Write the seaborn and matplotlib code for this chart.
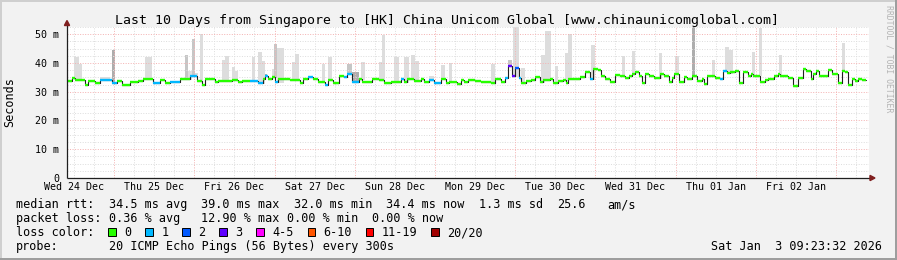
import numpy as np
import pandas as pd
import matplotlib
matplotlib.use("Agg")
import matplotlib.pyplot as plt
from matplotlib.patches import Rectangle, Polygon
import seaborn as sns

# ---------------- data ----------------
title = "Last 10 Days from Singapore to [HK] China Unicom Global [www.chinaunicomglobal.com]"
day_labels = ["Wed 24 Dec", "Thu 25 Dec", "Fri 26 Dec", "Sat 27 Dec", "Sun 28 Dec",
              "Mon 29 Dec", "Tue 30 Dec", "Wed 31 Dec", "Thu 01 Jan", "Fri 02 Jan"]
first_midnight_h = 14.1      # hours after graph start
span_h = 240.0
end_h = 239.2

ytick_vals = [0, 10, 20, 30, 40, 50]
ytick_labels = ["0", "10 m", "20 m", "30 m", "40 m", "50 m"]

# median rtt step series (segment start hour, ms, loss class)
time_h = [0.0, 1.5, 2.4, 5.4, 6.3, 8.4, 9.9, 13.5, 15.0, 16.5, 18.9, 21.3, 22.8, 25.7, 27.8, 29.3, 30.8, 33.8, 36.8, 38.9,
          40.4, 41.3, 42.5, 44.3, 45.2, 49.4, 51.2, 52.4, 54.8, 57.2, 58.7, 59.3, 60.2, 61.4, 62.3, 63.2, 66.8, 69.8, 70.7, 72.2,
          73.7, 75.1, 77.2, 78.1, 79.6, 81.4, 82.9, 83.8, 85.3, 86.5, 87.4, 88.3, 91.3, 93.4, 94.9, 97.0, 100.0, 100.9, 101.8, 103.9,
          106.0, 106.9, 108.4, 109.9, 112.0, 113.5, 114.4, 116.8, 118.0, 118.9, 120.1, 122.2, 124.0, 127.0, 128.1, 129.9, 131.1, 132.0, 133.2, 134.1,
          135.3, 135.9, 137.4, 138.9, 140.1, 141.6, 142.5, 144.6, 145.5, 147.0, 148.5, 149.4, 150.0, 152.1, 153.6, 155.1, 156.6, 157.5, 159.0, 159.9,
          161.1, 162.6, 164.1, 165.6, 167.1, 168.3, 169.2, 170.1, 171.3, 172.2, 173.1, 174.3, 175.7, 177.5, 178.7, 180.2, 181.1, 181.7, 183.2, 184.7,
          185.6, 187.1, 188.6, 190.1, 190.7, 191.6, 193.1, 194.0, 195.5, 196.4, 197.6, 198.5, 200.0, 201.2, 202.4, 203.9, 204.8, 205.4, 206.3, 207.5,
          209.0, 209.9, 211.7, 212.9, 213.5, 215.9, 217.4, 218.9, 220.1, 221.0, 222.5, 223.1, 224.0, 224.9, 227.8, 229.0, 230.8, 232.0, 232.9, 233.8,
          235.0, 235.9, 236.8, 238.0]
median_ms = [33.7, 34.6, 34.0, 32.3, 33.7, 33.2, 34.0, 32.9, 33.7, 32.5, 33.3, 33.8, 34.4, 32.9, 34.0, 32.9, 33.3, 34.5, 35.5, 33.8,
             32.2, 34.3, 34.5, 33.3, 33.6, 33.9, 33.3, 33.6, 33.6, 33.1, 34.5, 35.6, 34.3, 35.1, 33.3, 34.5, 34.2, 33.1, 34.5, 35.1,
             34.3, 33.3, 32.4, 33.9, 33.1, 35.6, 35.1, 36.1, 33.3, 33.5, 34.5, 33.3, 34.5, 34.2, 33.0, 33.4, 34.3, 33.3, 34.3, 33.6,
             34.5, 33.3, 33.9, 33.0, 34.3, 33.0, 33.3, 32.7, 33.9, 33.3, 33.9, 33.6, 33.3, 33.0, 34.3, 33.3, 34.7, 39.0, 35.5, 38.2,
             34.8, 33.0, 33.6, 33.9, 35.1, 33.3, 33.9, 34.5, 33.0, 33.6, 33.9, 33.0, 34.3, 34.5, 35.1, 36.9, 34.5, 37.9, 37.5, 35.4,
             34.3, 33.3, 35.8, 35.3, 34.7, 35.6, 36.1, 36.8, 35.3, 33.0, 36.1, 35.6, 34.7, 36.1, 35.3, 33.3, 34.7, 36.1, 33.3, 35.1,
             34.3, 35.6, 33.6, 34.5, 32.7, 35.6, 35.3, 34.7, 34.4, 37.2, 36.6, 36.8, 37.1, 33.0, 37.0, 35.6, 36.1, 35.3, 35.6, 33.3,
             33.9, 34.5, 35.6, 36.1, 35.3, 34.6, 32.0, 34.6, 38.0, 37.3, 34.4, 36.1, 37.3, 35.3, 37.5, 36.3, 32.9, 37.3, 36.7, 32.4,
             34.4, 33.6, 34.4, 34.1]
loss_class = [0, 0, 0, 0, 0, 0, 1, 1, 0, 0, 0, 0, 0, 1, 0, 0, 1, 0, 1, 0,
              0, 0, 0, 0, 0, 0, 0, 0, 1, 1, 0, 1, 0, 0, 1, 0, 0, 0, 0, 1,
              0, 0, 1, 0, 0, 0, 1, 1, 1, 1, 0, 0, 0, 0, 0, 0, 1, 0, 0, 0,
              0, 0, 1, 1, 0, 0, 0, 0, 0, 0, 0, 0, 0, 0, 0, 0, 1, 3, 3, 2,
              1, 0, 0, 0, 0, 0, 0, 0, 0, 0, 0, 0, 0, 0, 0, 0, 1, 0, 0, 0,
              0, 0, 0, 0, 0, 0, 0, 0, 0, 0, 0, 0, 0, 0, 0, 0, 0, 0, 0, 0,
              0, 0, 0, 0, 0, 0, 0, 0, 1, 1, 0, 0, 0, 0, 0, 0, 0, 0, 0, 0,
              0, 0, 0, 0, 0, 0, 0, 0, 0, 0, 0, 0, 0, 0, 0, 0, 0, 0, 0, 0,
              0, 0, 0, 0]

# smoke (ping spread above median): start hour, end hour, top ms, shade
smoke_start_h = [2.1, 3.6, 9.9, 13.5, 23.4, 35.3, 36.2, 37.4, 38.3, 39.8, 46.4, 47.3, 49.4, 50.3, 55.4, 57.2, 58.4, 59.3,
                 61.4, 62.0, 62.9, 67.4, 68.3, 76.3, 78.1, 83.8, 85.3, 88.0, 93.4, 94.3, 97.9, 100.9, 103.0, 104.2, 108.4,
                 112.0, 114.4, 127.0, 132.0, 133.5, 135.9, 141.9, 143.1, 146.1, 149.1, 150.0, 156.9, 166.2, 169.2, 177.2,
                 182.0, 187.1, 193.1, 197.0, 198.2, 205.1, 207.2, 213.2, 232.0]
smoke_end_h = [3.6, 4.5, 12.9, 14.4, 25.4, 36.2, 37.4, 38.3, 39.2, 40.7, 47.3, 48.5, 50.3, 51.2, 56.3, 58.4, 59.3, 59.9,
               62.0, 62.9, 65.0, 68.3, 69.5, 77.2, 79.3, 85.3, 87.4, 89.2, 94.3, 95.2, 99.4, 102.4, 104.2, 105.4, 109.9,
               113.2, 115.3, 128.1, 133.2, 135.3, 137.1, 143.1, 144.9, 147.0, 150.0, 151.2, 158.1, 167.1, 170.1, 178.1,
               183.2, 188.0, 194.0, 198.2, 199.4, 206.0, 208.1, 214.1, 232.9]
smoke_top_ms = [42.1, 39.8, 35.2, 44.4, 41.9, 42.7, 37.2, 48.5, 36.5, 50.2, 40.9, 42.5, 38.5, 37.3, 42.0, 43.8, 40.8, 36.0,
                38.0, 46.7, 45.3, 40.3, 43.2, 39.8, 42.0, 39.7, 36.8, 40.5, 40.3, 49.8, 42.0, 42.0, 42.6, 40.8, 35.6,
                39.4, 40.0, 39.5, 41.0, 52.4, 38.3, 42.6, 51.0, 39.1, 43.5, 50.1, 46.1, 42.3, 44.1, 43.4,
                42.4, 52.4, 40.9, 45.6, 44.5, 43.9, 52.0, 42.6, 46.9]
smoke_shade = [0, 0, 0, 2, 0, 1, 0, 1, 0, 0, 0, 0, 0, 0, 0, 0, 0, 2,
               0, 1, 0, 0, 0, 0, 0, 1, 2, 0, 0, 0, 0, 0, 0, 0, 0,
               0, 0, 0, 1, 0, 0, 0, 0, 0, 0, 0, 0, 0, 0, 0,
               0, 2, 0, 0, 0, 0, 0, 0, 0]

loss_labels = ["0", "1", "2", "3", "4-5", "6-10", "11-19", "20/20"]
loss_colors = ["#26ff00", "#00b8ff", "#0059ff", "#5e00ff", "#ff00ff", "#ff5500", "#ff0000", "#a10000"]

rtt_stats = ["34.5 ms avg", "39.0 ms max", "32.0 ms min", "34.4 ms now", "1.3 ms sd", "25.6", "am/s"]
loss_stats = ["0.36 % avg", "12.90 % max", "0.00 % min", "0.00 % now"]
probe_text = "20 ICMP Echo Pings (56 Bytes) every 300s"
stamp_text = "Sat Jan  3 09:23:32 2026"
watermark = "RRDTOOL / TOBI OETIKER"

# ---------------- style ----------------
W, H = 897, 260
sns.set_theme(style="white")
plt.rcParams["font.family"] = ["DejaVu Sans Mono"]
plt.rcParams["lines.scale_dashes"] = False
plt.rcParams["text.color"] = "black"

BACK = "#f2f2f2"
SHADEA = "#cfcfcf"
SHADEB = "#9e9e9e"
GRID = "#dedede"
MGRID = "#f4b4b4"
ARROW = "#801f1f"
AXIS = "#1f1f1f"
smoke_colors = ["#dddddd", "#c6c6c6", "#adadad"]

fig = plt.figure(figsize=(W / 100, H / 100), dpi=100, facecolor=BACK)


def fx(x):
    return x / W


def fy(y):
    return 1 - y / H


L, R, T, B = 67, 869, 27, 178
ax = fig.add_axes([fx(L), fy(B), (R - L) / W, (B - T) / H])
ax.set_facecolor("white")
ax.set_xlim(0, span_h)
ax.set_ylim(0, 52.5)
for s in ax.spines.values():
    s.set_visible(False)

# grid
dots = (0, (0.72, 1.1))
midnights = np.arange(first_midnight_h, span_h, 24.0)
minor_v = np.arange(first_midnight_h - 12, span_h, 6.0)
for v in minor_v:
    if v > 0 and not np.any(np.isclose(v, midnights)):
        ax.axvline(v, color=GRID, lw=0.72, ls=dots, zorder=1.5)
for v in midnights:
    ax.axvline(v, color=MGRID, lw=0.72, ls=dots, zorder=1.6)
for yv in np.arange(2.5, 52.6, 2.5):
    if np.isclose(yv % 10, 0):
        ax.axhline(yv, color=MGRID, lw=0.72, ls=dots, zorder=1.6)
    else:
        ax.axhline(yv, color=GRID, lw=0.72, ls=dots, zorder=1.5)

# smoke
t_arr = np.array(time_h)
m_arr = np.array(median_ms)
for s, e, top, sh in zip(smoke_start_h, smoke_end_h, smoke_top_ms, smoke_shade):
    idx = max(np.searchsorted(t_arr, s, side="right") - 1, 0)
    base = m_arr[idx] - 0.3
    ax.bar(s, top - base, bottom=base, width=e - s, align="edge",
           color=smoke_colors[sh], lw=0, zorder=1)

# median line (black steps) + loss-coloured segments
df = pd.DataFrame({"t": time_h + [end_h], "rtt": median_ms + [median_ms[-1]]})
sns.lineplot(data=df, x="t", y="rtt", drawstyle="steps-post", color="#202020",
             lw=0.8, estimator=None, sort=False, ax=ax, zorder=3)
seg_end = time_h[1:] + [end_h]
ax.hlines(median_ms, time_h, seg_end, colors=[loss_colors[c] for c in loss_class],
          lw=1.7, zorder=4)

# ticks
label_pos = midnights - 12
ax.set_xticks(label_pos)
ax.set_xticklabels(day_labels)
ax.set_yticks(ytick_vals)
ax.set_yticklabels(ytick_labels)
ax.tick_params(axis="x", length=0, pad=3.2, labelsize=7.2, colors="black")
ax.tick_params(axis="y", length=0, pad=5.5, labelsize=7.2, colors="black")
ax.set_xlabel("")
ax.set_ylabel("")

# axes lines and arrows
ax.plot([0, (872 - L) / (R - L)], [0, 0], transform=ax.transAxes, color=AXIS, lw=0.9,
        clip_on=False, zorder=6, solid_capstyle="butt")
ax.plot([0, 0], [0, (B - 23) / (B - T)], transform=ax.transAxes, color=AXIS, lw=0.9,
        clip_on=False, zorder=6, solid_capstyle="butt")
fig.patches.append(Polygon([(fx(L), fy(20.5)), (fx(L - 2.6), fy(25.5)), (fx(L + 2.6), fy(25.5))],
                           closed=True, transform=fig.transFigure, color=ARROW, zorder=7))
fig.patches.append(Polygon([(fx(875), fy(B)), (fx(870), fy(B - 2.6)), (fx(870), fy(B + 2.6))],
                           closed=True, transform=fig.transFigure, color=ARROW, zorder=7))

# frame
fig.patches.append(Rectangle((0, fy(2)), 1, 2 / H, transform=fig.transFigure, color=SHADEA, lw=0))
fig.patches.append(Rectangle((0, 0), 2 / W, 1, transform=fig.transFigure, color=SHADEA, lw=0))
fig.patches.append(Rectangle((0, 0), 1, 2 / H, transform=fig.transFigure, color=SHADEB, lw=0))
fig.patches.append(Rectangle((fx(W - 2), 0), 2 / W, 1, transform=fig.transFigure, color=SHADEB, lw=0))

# texts
fig.text(fx(447), fy(24), title, ha="center", va="baseline", fontsize=9.55)
fig.text(fx(10), fy(102.5), "Seconds", rotation=90, ha="center", va="center", fontsize=8.5)
fig.text(fx(888.5), fy(5), watermark, rotation=270, ha="center", va="top", fontsize=5.9,
         color="#b4b4b4")

CW = 7.12
X0 = 16
FS = 8.5


def col(c):
    return fx(X0 + c * CW)


# line 1
fig.text(col(0), fy(208), "median rtt:", fontsize=FS, va="baseline")
for c, s in zip([13, 26, 39, 52, 65, 76, 83], rtt_stats):
    fig.text(col(c), fy(208), s, fontsize=FS, va="baseline")
# line 2
fig.text(col(0), fy(222), "packet loss:", fontsize=FS, va="baseline")
for c, s in zip([13, 26, 38, 50], loss_stats):
    fig.text(col(c), fy(222), s, fontsize=FS, va="baseline")
# line 3 (loss colours)
fig.text(col(0), fy(236), "loss color:", fontsize=FS, va="baseline")
bx = X0 + 13 * CW - 0.3
for lab, colr in zip(loss_labels, loss_colors):
    fig.patches.append(Rectangle((fx(bx), fy(236)), 7.5 / W, 8 / H, transform=fig.transFigure,
                                 facecolor=colr, edgecolor="black", lw=0.7))
    tx = bx + 16
    fig.text(fx(tx), fy(236), lab, fontsize=FS, va="baseline")
    bx = tx + len(lab) * CW + 13.9
# line 4
fig.text(col(0), fy(250), "probe:", fontsize=FS, va="baseline")
fig.text(col(13), fy(250), probe_text, fontsize=FS, va="baseline")
fig.text(fx(882), fy(250), stamp_text, fontsize=FS, va="baseline", ha="right")

fig.savefig("out.png", dpi=100, facecolor=BACK)
